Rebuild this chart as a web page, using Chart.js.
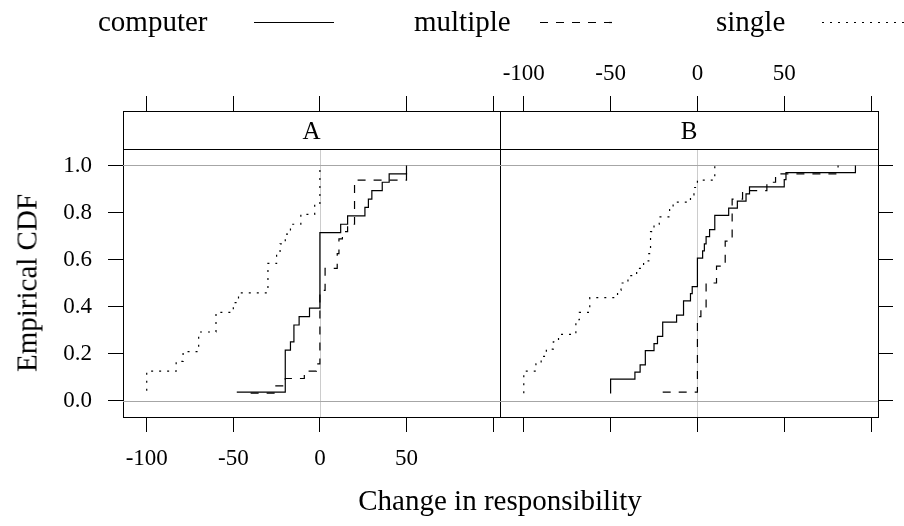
<!DOCTYPE html>
<html>
<head>
<meta charset="utf-8">
<script src="https://cdn.jsdelivr.net/npm/chart.js@4.4.1/dist/chart.umd.min.js"></script>
<style>
  html, body { margin: 0; padding: 0; background: #fff; }
  #wrap { position: relative; width: 904px; height: 526px; overflow: hidden;
          font-family: "Liberation Serif", "DejaVu Serif", serif; color: #000; }
  canvas { position: absolute; left: 0; top: 0; }
  .txt { position: absolute; white-space: nowrap; line-height: 1; }
  .legend-text { font-size: 29px; top: 7px; }
  .strip-text { font-size: 25px; top: 118px; transform: translateX(-50%); }
  #xtitle { font-size: 29px; left: 500px; top: 486px; transform: translateX(-50%); }
  #ytitle { font-size: 29px; left: 27px; top: 283px; transform: translate(-50%, -50%) rotate(-90deg); }
  svg.key { position: absolute; top: 12px; height: 20px; overflow: visible; }
</style>
</head>
<body>
<div id="wrap">
  <canvas id="panelA" width="904" height="526"></canvas>
  <canvas id="panelB" width="904" height="526"></canvas>

  <div class="txt legend-text" style="left:98px">computer</div>
  <svg class="key" style="left:254px" width="80"><line x1="0" y1="10.5" x2="80" y2="10.5" stroke="#000" stroke-width="1.2"/></svg>
  <div class="txt legend-text" style="left:414px">multiple</div>
  <svg class="key" style="left:540px" width="76"><line x1="0" y1="10.5" x2="76" y2="10.5" stroke="#000" stroke-width="1.2" stroke-dasharray="8 8"/></svg>
  <div class="txt legend-text" style="left:716px">single</div>
  <svg class="key" style="left:822px" width="82"><line x1="0" y1="10.5" x2="82" y2="10.5" stroke="#000" stroke-width="1.2" stroke-dasharray="2 6"/></svg>

  <div class="txt strip-text" style="left:311.5px">A</div>
  <div class="txt strip-text" style="left:689px">B</div>

  <div class="txt" id="xtitle">Change in responsibility</div>
  <div class="txt" id="ytitle">Empirical CDF</div>
</div>

<script>
// Observed changes in responsibility, per panel and condition (sorted raw values).
const computerA = [-48, -20, -20, -20, -20, -20, -17, -15, -15, -12, -6,
                   0, 0, 0, 0, 0, 0, 0, 0, 0, 12, 16, 26, 28, 30, 36, 40, 50];
const multipleA = [-40, -26, -20, -9, -2, 0, 0, 0, 0, 0, 0, 0, 0, 0, 0,
                   3, 3, 3, 10, 10, 11, 11, 13, 16, 20, 20, 20, 20, 20, 20, 50, 50];
const singleA   = [-100, -100, -100, -83, -79, -70, -70, -60, -60, -50, -47,
                   -30, -30, -30, -25, -23, -20, -17, -11, -3, 0, 0, 0, 0];

const computerB = [-50, -50, -50, -36, -33, -30, -30, -25, -23, -20, -20, -12,
                   -8, -8, -4, -3, 0, 0, 0, 0, 3, 4, 5, 7, 10, 10, 18, 23, 28, 30, 50, 51, 91];
const multipleB = [-20, 0, 0, 0, 0, 0, 0, 0, 0, 0, 2, 5, 5, 5, 11, 11,
                   16, 16, 16, 20, 20, 20, 20, 20, 26, 40, 45, 81];
const singleB   = [-100, -100, -100, -100, -93, -90, -87, -83, -80, -70, -70, -68,
                   -62, -62, -46, -44, -40, -35, -31, -28, -27, -27, -27, -25,
                   -22, -16, -14, -4, -2, 0, 10, 10];

const groupNames = ['computer', 'multiple', 'single'];
const panelNames = ['A', 'B'];

// Axis ticks and labels
const xTicks = [-100, -50, 0, 50, 100];
const xTickLabels = ['-100', '-50', '0', '50', ''];
const yTicks = [0, 0.2, 0.4, 0.6, 0.8, 1.0];
const yTickLabels = ['0.0', '0.2', '0.4', '0.6', '0.8', '1.0'];
const refY = [0, 1];
const refX = [0];

// Panel geometry (data limits)
const X_MIN = -113.7, X_MAX = 104;
const Y_MIN = -0.07, Y_PANEL_TOP = 1.07, Y_MAX = 1.2317;  // strip sits above 1.07

const lineStyles = {
  computer: { dash: [] },
  multiple: { dash: [8, 8] },
  single:   { dash: [2, 6] }
};

function ecdfPoints(values) {
  const s = [...values].sort((a, b) => a - b);
  return s.map((v, i) => ({ x: v, y: (i + 1) / s.length }));
}

const tickFont = { family: '"Liberation Serif", serif', size: 23 };

// Reference lines and strip box drawn through the chart's scales
const panelDecor = {
  id: 'panelDecor',
  beforeDatasetsDraw(chart) {
    const { ctx, chartArea: a, scales } = chart;
    const xs = scales.x, ys = scales.y;
    const stripY = Math.round(ys.getPixelForValue(Y_PANEL_TOP)) + 0.5;
    ctx.save();
    ctx.lineWidth = 1;
    ctx.strokeStyle = '#cccccc';
    refX.forEach(v => {
      const px = Math.round(xs.getPixelForValue(v)) + 0.5;
      ctx.beginPath(); ctx.moveTo(px, stripY); ctx.lineTo(px, a.bottom); ctx.stroke();
    });
    ctx.strokeStyle = '#a6a6a6';
    refY.forEach(v => {
      const py = Math.round(ys.getPixelForValue(v)) + 0.5;
      ctx.beginPath(); ctx.moveTo(a.left, py); ctx.lineTo(a.right, py); ctx.stroke();
    });
    ctx.restore();
  },
  afterDraw(chart) {
    const { ctx, chartArea: a, scales } = chart;
    const stripY = Math.round(scales.y.getPixelForValue(Y_PANEL_TOP)) + 0.5;
    ctx.save();
    ctx.strokeStyle = '#000';
    ctx.lineWidth = 1;
    ctx.beginPath(); ctx.moveTo(a.left, stripY); ctx.lineTo(a.right, stripY); ctx.stroke();
    ctx.restore();
  }
};

function makePanel(canvasId, series, side) {
  const first = side === 'A';
  const datasets = groupNames.map((g, i) => ({
    label: g,
    data: ecdfPoints(series[i]),
    stepped: 'before',
    borderColor: '#000',
    borderWidth: 1.2,
    borderDash: lineStyles[g].dash,
    pointRadius: 0,
    fill: false
  }));

  const xAxis = (position, labels) => ({
    type: 'linear', position, min: X_MIN, max: X_MAX,
    afterBuildTicks: s => { s.ticks = xTicks.map(v => ({ value: v })); },
    afterFit: s => { s.height = position === 'top' ? 111 : 109; },
    ticks: {
      display: labels, autoSkip: false, maxRotation: 0, color: '#000', font: tickFont,
      padding: position === 'top' ? 8 : 13,
      callback: v => xTickLabels[xTicks.indexOf(v)]
    },
    grid: { drawOnChartArea: false, drawTicks: true, tickLength: 15, color: '#000', lineWidth: 1 },
    border: { display: true, color: '#000', width: 1 }
  });

  const yAxis = (position, ticksOn, labels, width) => ({
    type: 'linear', position, min: Y_MIN, max: Y_MAX,
    afterBuildTicks: s => { s.ticks = yTicks.map(v => ({ value: v })); },
    afterFit: s => { s.width = width; },
    ticks: {
      display: labels, color: '#000', font: tickFont, padding: 16,
      callback: v => yTickLabels[yTicks.indexOf(v)]
    },
    grid: { drawOnChartArea: false, drawTicks: ticksOn, tickLength: 15, color: '#000', lineWidth: 1 },
    border: { display: true, color: '#000', width: 1 }
  });

  return new Chart(document.getElementById(canvasId), {
    type: 'line',
    data: { datasets },
    options: {
      responsive: false,
      animation: false,
      devicePixelRatio: 1,
      layout: { padding: first ? { left: 0, right: 404, top: 0, bottom: 0 }
                               : { left: 500, right: 0, top: 0, bottom: 0 } },
      plugins: { legend: { display: false }, tooltip: { enabled: false } },
      scales: {
        x: xAxis('bottom', first),
        xTop: xAxis('top', !first),
        y: yAxis('left', first, first, first ? 123 : 0),
        yRight: yAxis('right', !first, false, first ? 0 : 26)
      }
    },
    plugins: [panelDecor]
  });
}

makePanel('panelA', [computerA, multipleA, singleA], 'A');
makePanel('panelB', [computerB, multipleB, singleB], 'B');
</script>
</body>
</html>
